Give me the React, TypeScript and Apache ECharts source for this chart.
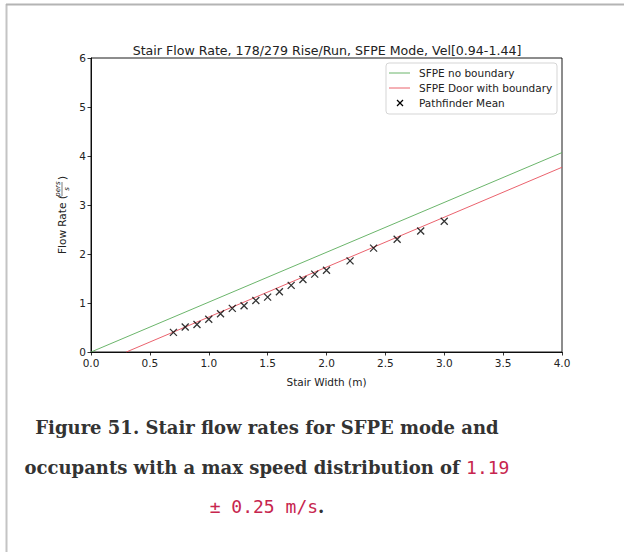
import React, { useEffect, useRef } from "react";
import * as echarts from "echarts";

const chartTitle = "Stair Flow Rate, 178/279 Rise/Run, SFPE Mode, Vel[0.94-1.44]";
const xAxisLabel = "Stair Width (m)";
const legendNames = ["SFPE no boundary", "SFPE Door with boundary", "Pathfinder Mean"];

// Pathfinder mean flow rate points
const widths = [0.7, 0.8, 0.9, 1.0, 1.1, 1.2, 1.3, 1.4, 1.5, 1.6, 1.7, 1.8, 1.9, 2.0, 2.2, 2.4, 2.6, 2.8, 3.0];
const flowMean = [0.4, 0.51, 0.56, 0.67, 0.78, 0.89, 0.945, 1.05, 1.12, 1.23, 1.36, 1.48, 1.59, 1.67, 1.86, 2.12, 2.3, 2.47, 2.67];

// SFPE lines (end points)
const noBoundaryX = [0.0, 4.0];
const noBoundaryY = [0.0, 4.07];
const doorX = [0.3, 4.0];
const doorY = [0.0, 3.77];

const captionLine1 = "Figure 51. Stair flow rates for SFPE mode and";
const captionLine2 = "occupants with a max speed distribution of ";
const captionCode1 = "1.19";
const captionCode2 = "± 0.25 m/s";

const GREEN = "#5aad5a";
const RED = "#e8505c";
const SANS = "'DejaVu Sans', sans-serif";
const SERIF = "'DejaVu Serif', serif";
const MONO = "'DejaVu Sans Mono', monospace";

export default function App() {
  const ref = useRef<HTMLDivElement>(null);
  useEffect(() => {
    document.body.style.margin = "0";
    document.body.style.overflow = "hidden";
    if (!ref.current) return;
    const chart = echarts.init(ref.current, undefined, { renderer: "svg" });
    const lx = 386, ly = 63;
    const option: any = {
      animation: false,
      backgroundColor: "#fff",
      title: {
        text: chartTitle,
        left: 322,
        top: 39,
        textAlign: "center",
        textStyle: { fontFamily: SANS, fontSize: 12.6, fontWeight: "normal", color: "#222" },
      },
      grid: {
        left: 91,
        right: 62,
        top: 58,
        bottom: 200,
        show: true,
        borderColor: "#000",
        borderWidth: 0.9,
        backgroundColor: "transparent",
      },
      xAxis: {
        type: "value",
        min: 0,
        max: 4,
        interval: 0.5,
        name: xAxisLabel,
        nameLocation: "middle",
        nameGap: 24,
        nameTextStyle: { fontFamily: SANS, fontSize: 10.5, color: "#222" },
        axisLine: { show: true, lineStyle: { color: "#000", width: 0.9 } },
        axisTick: { show: true, inside: false, length: 3.5, lineStyle: { color: "#000", width: 0.8 } },
        axisLabel: {
          fontFamily: SANS,
          fontSize: 10.5,
          color: "#222",
          margin: 5,
          formatter: (v: number) => v.toFixed(1),
        },
        splitLine: { show: false },
      },
      yAxis: {
        type: "value",
        min: 0,
        max: 6,
        interval: 1,
        axisLine: { show: true, lineStyle: { color: "#000", width: 0.9 } },
        axisTick: { show: true, inside: false, length: 3.5, lineStyle: { color: "#000", width: 0.8 } },
        axisLabel: { fontFamily: SANS, fontSize: 10.5, color: "#222", margin: 5 },
        splitLine: { show: false },
      },
      series: [
        {
          name: legendNames[0],
          type: "line",
          data: noBoundaryX.map((x, i) => [x, noBoundaryY[i]]),
          showSymbol: false,
          lineStyle: { color: GREEN, width: 0.9 },
          silent: true,
        },
        {
          name: legendNames[1],
          type: "line",
          data: doorX.map((x, i) => [x, doorY[i]]),
          showSymbol: false,
          lineStyle: { color: RED, width: 0.9 },
          silent: true,
        },
        {
          name: legendNames[2],
          type: "scatter",
          data: widths.map((x, i) => [x, flowMean[i]]),
          symbol: "path://M0,0L10,10M10,0L0,10",
          symbolSize: 7,
          itemStyle: { color: "none", borderColor: "#000", borderWidth: 1.3 },
          z: 5,
        },
      ],
      graphic: [
        // white cover on the right edge
        { type: "rect", shape: { x: 600, y: 8, width: 24, height: 544 }, style: { fill: "#fff" }, z: 40 },
        // page frame
        { type: "line", shape: { x1: 6.5, y1: 4, x2: 6.5, y2: 552 }, style: { stroke: "#c4c4c4", lineWidth: 2 }, z: 50 },
        { type: "line", shape: { x1: 6, y1: 4.5, x2: 624, y2: 4.5 }, style: { stroke: "#b4b4b4", lineWidth: 2 }, z: 50 },
        // y axis label (rotated)
        {
          type: "group",
          x: 62,
          y: 206,
          rotation: Math.PI / 2,
          z: 50,
          children: [
            {
              type: "text",
              x: -48,
              y: 0,
              style: { text: "Flow Rate (", font: `10.5px ${SANS}`, fill: "#222", textAlign: "left", textVerticalAlign: "middle" },
            },
            {
              type: "text",
              x: 17,
              y: -4,
              style: { text: "pers", font: `italic 7px ${SANS}`, fill: "#222", textAlign: "center", textVerticalAlign: "middle" },
            },
            { type: "line", shape: { x1: 10, y1: 0, x2: 24, y2: 0 }, style: { stroke: "#222", lineWidth: 0.6 } },
            {
              type: "text",
              x: 17,
              y: 4.5,
              style: { text: "s", font: `italic 7px ${SANS}`, fill: "#222", textAlign: "center", textVerticalAlign: "middle" },
            },
            {
              type: "text",
              x: 26,
              y: 0,
              style: { text: ")", font: `10.5px ${SANS}`, fill: "#222", textAlign: "left", textVerticalAlign: "middle" },
            },
          ],
        },
        // legend
        {
          type: "group",
          z: 100,
          children: [
            {
              type: "rect",
              shape: { x: lx, y: ly, width: 171, height: 51, r: 3 },
              style: { fill: "rgba(255,255,255,0.8)", stroke: "#d0d0d0", lineWidth: 0.9 },
            },
            { type: "line", shape: { x1: lx + 3, y1: ly + 10, x2: lx + 24, y2: ly + 10 }, style: { stroke: GREEN, lineWidth: 0.9 } },
            {
              type: "text",
              x: lx + 33,
              y: ly + 10,
              style: { text: legendNames[0], font: `10.5px ${SANS}`, fill: "#222", textVerticalAlign: "middle" },
            },
            { type: "line", shape: { x1: lx + 3, y1: ly + 25, x2: lx + 24, y2: ly + 25 }, style: { stroke: RED, lineWidth: 0.9 } },
            {
              type: "text",
              x: lx + 33,
              y: ly + 25,
              style: { text: legendNames[1], font: `10.5px ${SANS}`, fill: "#222", textVerticalAlign: "middle" },
            },
            { type: "line", shape: { x1: lx + 11, y1: ly + 37, x2: lx + 17, y2: ly + 43 }, style: { stroke: "#000", lineWidth: 1.3 } },
            { type: "line", shape: { x1: lx + 17, y1: ly + 37, x2: lx + 11, y2: ly + 43 }, style: { stroke: "#000", lineWidth: 1.3 } },
            {
              type: "text",
              x: lx + 33,
              y: ly + 40,
              style: { text: legendNames[2], font: `10.5px ${SANS}`, fill: "#222", textVerticalAlign: "middle" },
            },
          ],
        },
        // caption
        {
          type: "text",
          x: 267,
          y: 427,
          z: 50,
          style: {
            text: captionLine1,
            font: `bold 18px ${SERIF}`,
            fill: "#333",
            textAlign: "center",
            textVerticalAlign: "middle",
          },
        },
        {
          type: "text",
          x: 267,
          y: 467,
          z: 50,
          style: {
            text: captionLine2 + "{c|" + captionCode1 + "}",
            font: `bold 18px ${SERIF}`,
            fill: "#333",
            textAlign: "center",
            textVerticalAlign: "middle",
            rich: { c: { fontFamily: MONO, fontWeight: "normal", fontSize: 18, fill: "#c7254e" } },
          },
        },
        {
          type: "text",
          x: 267,
          y: 506,
          z: 50,
          style: {
            text: "{c|" + captionCode2 + "}.",
            font: `bold 18px ${SERIF}`,
            fill: "#333",
            textAlign: "center",
            textVerticalAlign: "middle",
            rich: { c: { fontFamily: MONO, fontWeight: "normal", fontSize: 18, fill: "#c7254e" } },
          },
        },
      ],
    };
    chart.setOption(option);
    return () => chart.dispose();
  }, []);
  return (
    <div
      ref={ref}
      style={{ position: "fixed", left: 0, top: 0, width: 624, height: 552, background: "#fff" }}
    />
  );
}
